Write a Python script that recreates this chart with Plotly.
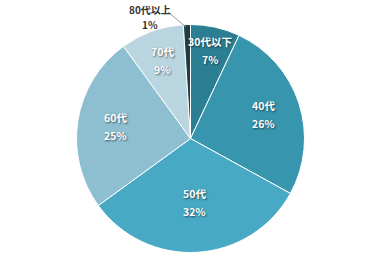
import math
import plotly.graph_objects as go

labels = ["30代以下", "40代", "50代", "60代", "70代", "80代以上"]
values = [7, 26, 32, 25, 9, 1]
colors = ["#2C7F92", "#3796AE", "#48A9C4", "#8EBFD1", "#B8D5E0", "#1B3F45"]

W, H = 384, 280
cx, cy, r = 190.5, 138.5, 114
label_radius = [0.79, 0.67, 0.56, 0.67, 0.73, None]

fig = go.Figure(go.Pie(
    labels=labels, values=values, sort=False, direction="clockwise", rotation=0,
    marker=dict(colors=colors, line=dict(color="white", width=1)),
    textinfo="none",
    domain=dict(x=[(cx - r) / W, (cx + r) / W], y=[1 - (cy + r) / H, 1 - (cy - r) / H]),
    hoverinfo="label+percent", showlegend=False,
))

inner_font = dict(family="Noto Sans CJK JP", size=10.5, color="white", weight="bold",
                  shadow="1px 1px 2px rgba(0,0,0,0.55)")
total = sum(values)
cum = 0
for lab, v, rf in zip(labels, values, label_radius):
    mid = (cum + v / 2) / total * 2 * math.pi
    cum += v
    if rf is None:
        continue
    px = cx + rf * r * math.sin(mid)
    py = cy - rf * r * math.cos(mid)
    for txt, shift in ((lab, 9), (f"{v}%", -9)):
        fig.add_annotation(xref="paper", yref="paper", x=px / W, y=1 - py / H,
                           text=txt, showarrow=False, font=inner_font,
                           xanchor="center", yanchor="middle", yshift=shift)

outer_font = dict(family="Noto Sans CJK JP", size=10, color="#333333", weight="bold")
fig.add_shape(type="line", xref="paper", yref="paper",
              x0=168 / W, y0=1 - 12 / H, x1=186 / W, y1=1 - 27 / H,
              line=dict(color="#999999", width=1))
for txt, py in ((labels[-1], 10), (f"{values[-1]}%", 24)):
    fig.add_annotation(xref="paper", yref="paper", x=150 / W, y=1 - py / H,
                       text=txt, showarrow=False, font=outer_font,
                       xanchor="center", yanchor="middle")

fig.update_layout(width=W, height=H, margin=dict(l=0, r=0, t=0, b=0),
                  paper_bgcolor="white", plot_bgcolor="white")
fig.write_html("out.html")
